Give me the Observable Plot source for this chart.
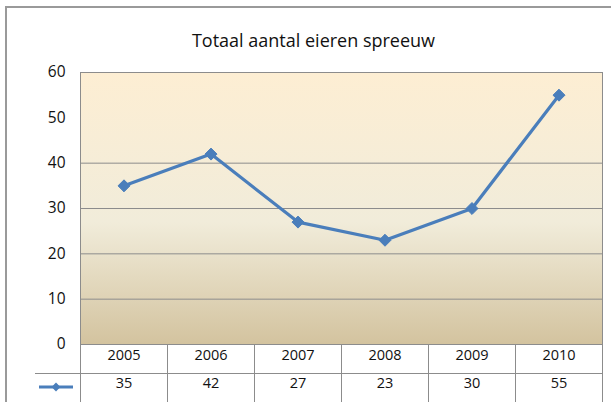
<!DOCTYPE html>
<html>
<head>
<meta charset="utf-8">
<script src="https://cdn.jsdelivr.net/npm/d3@7"></script>
<script src="https://cdn.jsdelivr.net/npm/@observablehq/plot@0.6"></script>
<style>
  html, body { margin: 0; padding: 0; background: #fff; }
  #wrap { position: relative; width: 611px; height: 402px; overflow: hidden; font-family: "Open Sans", sans-serif; }
  #border { position: absolute; left: 5px; top: 6px; width: 700px; height: 500px; border-left: 2px solid #9a9a9a; border-top: 2px solid #9a9a9a; }
  #title { position: relative; height: 56px; box-sizing: border-box; padding-top: 28px; text-align: center; font-size: 18px; line-height: 24px; color: #111; padding-left: 16px; }
  #chart { position: relative; display: block; }
</style>
</head>
<body>
<div id="wrap">
  <div id="border"></div>
  <div id="title">Totaal aantal eieren spreeuw</div>
  <div id="chart"></div>
</div>
<script>
const years = ["2005", "2006", "2007", "2008", "2009", "2010"];
const values = [35, 42, 27, 23, 30, 55];
const gridValues = [10, 20, 30, 40];

const data = years.map((year, i) => ({year, value: values[i]}));

const blue = "#4A7EBB";
const gray = "#8c8c8c";

const tableMark = (index, scales, channels, dims) => {
  const g = d3.create("svg:g").attr("stroke", gray).attr("stroke-width", 1).attr("fill", "none");
  const x = scales.x;
  const top = dims.height - dims.marginBottom;
  const bottom = dims.height;
  const left = dims.marginLeft;
  const right = dims.width - dims.marginRight;
  const rowH = 29;
  for (const yr of years) {
    const xv = Math.round(x(yr)) + 0.5;
    g.append("line").attr("x1", xv).attr("x2", xv).attr("y1", top).attr("y2", bottom);
  }
  g.append("line").attr("x1", right + 0.5).attr("x2", right + 0.5).attr("y1", top).attr("y2", bottom);
  g.append("line").attr("x1", left - 45).attr("x2", right).attr("y1", top + rowH + 0.5).attr("y2", top + rowH + 0.5);
  // legend swatch
  const sy = top + 43;
  const sx = left - 24;
  g.append("line").attr("x1", sx - 17).attr("x2", sx + 17).attr("y1", sy).attr("y2", sy)
    .attr("stroke", blue).attr("stroke-width", 3);
  g.append("path").attr("d", d3.symbol(d3.symbolDiamond2, 50)())
    .attr("transform", `translate(${sx},${sy})`).attr("fill", blue).attr("stroke", "none");
  return g.node();
};

const chart = Plot.plot({
  width: 611,
  height: 346,
  marginTop: 16,
  marginLeft: 80,
  marginRight: 9,
  marginBottom: 58,
  style: {background: "transparent", fontFamily: "Open Sans, sans-serif", color: "#111"},
  x: {type: "band", domain: years, padding: 0, axis: null},
  y: {domain: [0, 60], ticks: 6, tickSize: 0, tickPadding: 15, label: null, tickFormat: d => String(d)},
  marks: [
    Plot.frame({fill: "url(#bgGrad)", stroke: gray}),
    Plot.ruleY(gridValues, {stroke: gray, strokeWidth: 1}),
    tableMark,
    Plot.text(years, {x: d => d, frameAnchor: "bottom", dy: 15, fontSize: 14.5, fill: "#111"}),
    Plot.text(data, {x: "year", text: d => String(d.value), frameAnchor: "bottom", dy: 43, fontSize: 14.5, fill: "#111"}),
    Plot.line(data, {x: "year", y: "value", stroke: blue, strokeWidth: 3.2}),
    Plot.dot(data, {x: "year", y: "value", symbol: "diamond2", r: 5.4, fill: blue, stroke: blue, strokeWidth: 1})
  ]
});

const ns = "http://www.w3.org/2000/svg";
const defs = document.createElementNS(ns, "defs");
defs.innerHTML = `<linearGradient id="bgGrad" x1="0" y1="0" x2="0" y2="1">
  <stop offset="0" stop-color="#FDEED3"/>
  <stop offset="0.55" stop-color="#F1ECDA"/>
  <stop offset="1" stop-color="#D3C39F"/>
</linearGradient>`;
chart.insertBefore(defs, chart.firstChild);
chart.querySelectorAll("g[aria-label='y-axis tick label'] text, g[aria-label='y-axis'] text").forEach(t => t.setAttribute("font-size", "15.5"));
document.getElementById("chart").appendChild(chart);
</script>
</body>
</html>
